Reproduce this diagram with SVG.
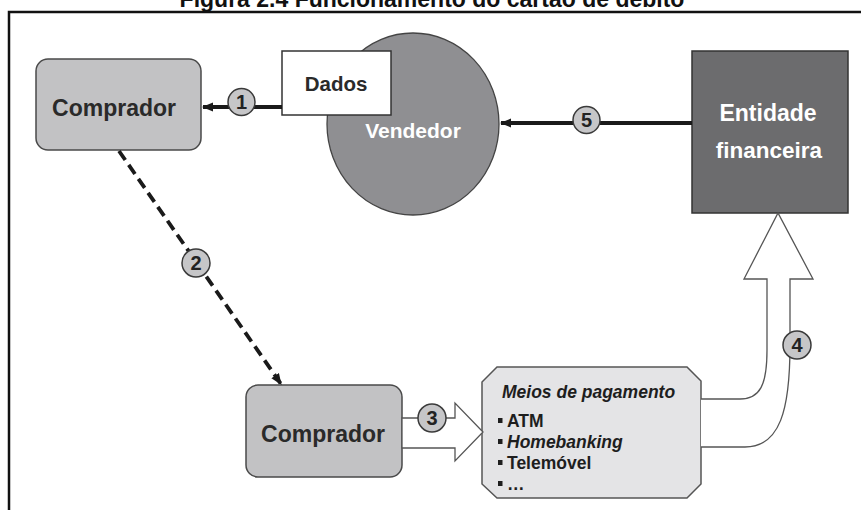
<svg xmlns="http://www.w3.org/2000/svg" width="861" height="510" viewBox="0 0 861 510">
  <style>
    .title { font-family: "Liberation Sans", Arial, sans-serif; font-weight: bold; font-size: 23px; fill: #111; }
    .lbl { font-family: "Liberation Sans", Arial, sans-serif; font-weight: bold; text-anchor: middle; }
    .dark { fill: #2a2a2a; }
    .light { fill: #ffffff; }
    .buyer { fill: #c2c2c4; stroke: #4a4a4a; stroke-width: 1.5; }
    .num circle { fill: #c6c6c8; stroke: #3a3a3a; stroke-width: 1.5; }
    .num text { font-family: "Liberation Sans", Arial, sans-serif; font-weight: bold; font-size: 20px; fill: #222; text-anchor: middle; }
    .thick { stroke: #1a1a1a; stroke-width: 3.8; fill: none; }
    .block { fill: #ffffff; stroke: #555; stroke-width: 1.3; }
    .item { font-family: "Liberation Sans", Arial, sans-serif; font-weight: bold; font-size: 17.5px; fill: #1e1e1e; }
  </style>
  <defs>
    <marker id="head" viewBox="0 0 10 10" refX="9" refY="5" markerWidth="3" markerHeight="3" orient="auto" markerUnits="strokeWidth">
      <path d="M0,1 L10,5 L0,9 Z" fill="#1a1a1a"/>
    </marker>
  </defs>

  <rect width="861" height="510" fill="#ffffff"/>

  <!-- caption, partly above the top edge -->
  <text class="title" x="432" y="7" text-anchor="middle">Figura 2.4 Funcionamento do cartão de débito</text>

  <!-- frame -->
  <path d="M9,510 L9,12 L861,12" fill="none" stroke="#111" stroke-width="2.5"/>

  <!-- nodes -->
  <g id="vendedor">
    <ellipse cx="413" cy="124" rx="86" ry="91" fill="#8f8f92" stroke="#444" stroke-width="1.3"/>
    <text class="lbl light" x="413" y="138" font-size="21">Vendedor</text>
  </g>

  <g id="dados">
    <rect x="282" y="51" width="109" height="64" fill="#ffffff" stroke="#333" stroke-width="1.5"/>
    <text class="lbl dark" x="336" y="91" font-size="20.5">Dados</text>
  </g>

  <g id="comprador1">
    <rect class="buyer" x="36" y="59" width="165" height="91" rx="12"/>
    <text class="lbl dark" x="114" y="116" font-size="23">Comprador</text>
  </g>

  <g id="entidade">
    <rect x="692" y="51" width="156" height="162" fill="#6c6c6e" stroke="#333" stroke-width="1.5"/>
    <text class="lbl light" x="768" y="121" font-size="23">Entidade</text>
    <text class="lbl light" x="769" y="158" font-size="22.5">financeira</text>
  </g>

  <g id="comprador2">
    <rect class="buyer" x="246" y="385" width="156" height="92" rx="12"/>
    <text class="lbl dark" x="323" y="442" font-size="23">Comprador</text>
  </g>

  <g id="meios">
    <path d="M497,367 L687,367 L701,381 L701,484 L687,498 L497,498 L482,484 L482,382 Z" fill="#e4e4e6" stroke="#555" stroke-width="1.5"/>
    <text class="item" x="502" y="398" font-style="italic">Meios de pagamento</text>
    <rect x="498" y="418" width="4.5" height="5" fill="#1e1e1e"/>
    <text class="item" x="507" y="427">ATM</text>
    <rect x="498" y="439" width="4.5" height="5" fill="#1e1e1e"/>
    <text class="item" x="507" y="448" font-style="italic">Homebanking</text>
    <rect x="498" y="460" width="4.5" height="5" fill="#1e1e1e"/>
    <text class="item" x="507" y="469">Telemóvel</text>
    <rect x="498" y="481" width="4.5" height="5" fill="#1e1e1e"/>
    <text class="item" x="507" y="490">…</text>
  </g>

  <!-- connectors -->
  <g id="connectors">
    <!-- 1: Dados to Comprador -->
    <line class="thick" x1="282" y1="107" x2="203" y2="107" marker-end="url(#head)"/>
    <!-- 5: Entidade financeira to Vendedor -->
    <line class="thick" x1="692" y1="123" x2="501" y2="123" marker-end="url(#head)"/>
    <!-- 2: dashed path between the two buyers -->
    <line class="thick" x1="119" y1="151" x2="281" y2="384" stroke-dasharray="11 6" marker-end="url(#head)"/>
    <!-- 3: block arrow into the payment means -->
    <path class="block" d="M402,418 L455,418 L455,403 L483,432 L455,461 L455,448 L402,448 Z"/>
    <!-- 4: curved block arrow up to Entidade financeira -->
    <path class="block" d="M701,399 L740,399 C760,399 767,385 767,350 L767,279 L744,279 L778,213 L813,279 L790,279 L790,345 C790,410 780,447 745,447 L701,447"/>

    <g class="num"><circle cx="241.5" cy="102" r="13.5"/><text x="241.5" y="109">1</text></g>
    <g class="num"><circle cx="586.5" cy="120" r="13.5"/><text x="586.5" y="127">5</text></g>
    <g class="num"><circle cx="196" cy="263" r="14"/><text x="196" y="270">2</text></g>
    <g class="num"><circle cx="432" cy="418" r="14"/><text x="432" y="425">3</text></g>
    <g class="num"><circle cx="797" cy="345" r="14"/><text x="797" y="352">4</text></g>
  </g>
</svg>
